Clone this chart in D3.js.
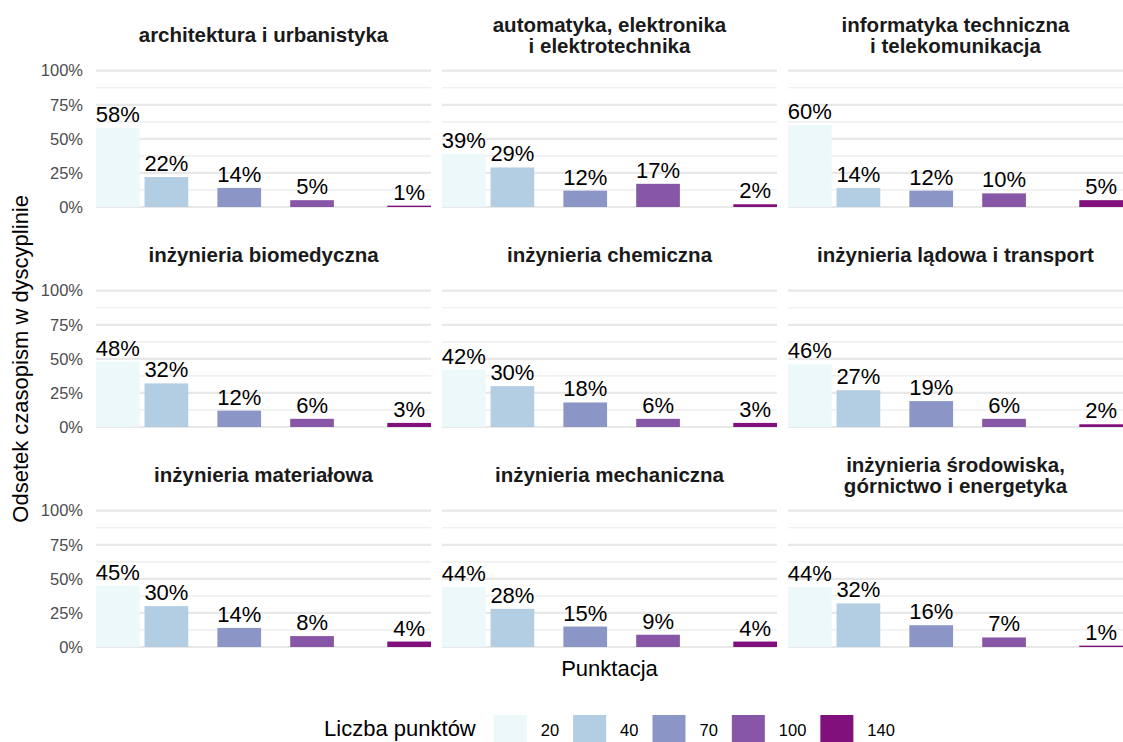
<!DOCTYPE html>
<html>
<head>
<meta charset="utf-8">
<script src="https://cdn.jsdelivr.net/npm/d3@7"></script>
<style>
  body { margin: 0; background: #fff; }
  text { font-family: "Liberation Sans", Arial, sans-serif; }
</style>
</head>
<body>
<div id="chart"></div>
<script>
// data
var disciplines = [
  "architektura i urbanistyka",
  "automatyka, elektronika\ni elektrotechnika",
  "informatyka techniczna\ni telekomunikacja",
  "inżynieria biomedyczna",
  "inżynieria chemiczna",
  "inżynieria lądowa i transport",
  "inżynieria materiałowa",
  "inżynieria mechaniczna",
  "inżynieria środowiska,\ngórnictwo i energetyka"
];
var points = [20, 40, 70, 100, 140];
var shares = [
  [0.58, 0.22, 0.14, 0.05, 0.01],
  [0.39, 0.29, 0.12, 0.17, 0.02],
  [0.60, 0.14, 0.12, 0.10, 0.05],
  [0.48, 0.32, 0.12, 0.06, 0.03],
  [0.42, 0.30, 0.18, 0.06, 0.03],
  [0.46, 0.27, 0.19, 0.06, 0.02],
  [0.45, 0.30, 0.14, 0.08, 0.04],
  [0.44, 0.28, 0.15, 0.09, 0.04],
  [0.44, 0.32, 0.16, 0.07, 0.01]
];
var yTicks = [0, 0.25, 0.5, 0.75, 1];
var yMinor = [0.125, 0.375, 0.625, 0.875];
var palette = ["#edf8fb", "#b3cde3", "#8c96c6", "#8856a7", "#810f7c"];

var W = 1123, H = 742;
var colX = [96, 442, 788], panelW = 335;
var rowTop = [70.7, 290.7, 510.7], panelH = 136.3;

var svg = d3.select("#chart").append("svg")
  .attr("width", W)
  .attr("height", H);

var x = d3.scaleLinear().domain([11, 149]).range([0, panelW]);
var y = d3.scaleLinear().domain([0, 1]).range([panelH, 0]);
var colour = d3.scaleOrdinal().domain(points).range(palette);
var barW = x(18) - x(0);

disciplines.forEach(function(name, i) {
  var col = i % 3, row = Math.floor(i / 3);
  var g = svg.append("g")
    .attr("transform", "translate(" + colX[col] + "," + rowTop[row] + ")");

  // grid
  g.selectAll("line.minor").data(yMinor).enter().append("line")
    .attr("class", "minor")
    .attr("x1", 0).attr("x2", panelW)
    .attr("y1", d => y(d)).attr("y2", d => y(d))
    .attr("stroke", "#ebebeb").attr("stroke-width", 1.2);
  g.selectAll("line.major").data(yTicks).enter().append("line")
    .attr("class", "major")
    .attr("x1", 0).attr("x2", panelW)
    .attr("y1", d => y(d)).attr("y2", d => y(d))
    .attr("stroke", "#e8e8e8").attr("stroke-width", 2.2);

  var rows = points.map((p, j) => ({ p: p, v: shares[i][j] }));

  g.selectAll("rect.bar").data(rows).enter().append("rect")
    .attr("class", "bar")
    .attr("x", d => x(d.p) - barW / 2)
    .attr("width", barW)
    .attr("y", d => y(d.v))
    .attr("height", d => y(0) - y(d.v))
    .attr("fill", d => colour(d.p));

  g.selectAll("text.val").data(rows).enter().append("text")
    .attr("class", "val")
    .attr("x", d => x(d.p))
    .attr("y", d => y(d.v) - 6)
    .attr("text-anchor", "middle")
    .style("font-size", "22px")
    .attr("fill", "#000")
    .text(d => Math.round(d.v * 100) + "%");

  // strip title
  var lines = name.split("\n");
  g.selectAll("text.strip").data(lines).enter().append("text")
    .attr("class", "strip")
    .attr("x", panelW / 2)
    .attr("y", (d, k) => -28.4 + (k - (lines.length - 1) / 2) * 21)
    .attr("text-anchor", "middle")
    .style("font-size", "20.5px")
    .style("font-weight", "bold")
    .attr("fill", "#1a1a1a")
    .text(d => d);

  if (col === 0) {
    var ax = g.append("g")
      .call(d3.axisLeft(y).tickValues(yTicks).tickFormat(d3.format(".0%")).tickSize(0).tickPadding(13));
    ax.select(".domain").remove();
    ax.selectAll("text")
      .style("font-size", "16.5px")
      .style("font-family", "'Liberation Sans', Arial, sans-serif")
      .attr("fill", "#4d4d4d");
  }
});

// axis titles
var plotCx = (colX[0] + colX[2] + panelW) / 2;
svg.append("text")
  .attr("transform", "translate(28," + (rowTop[0] + rowTop[2] + panelH) / 2 + ") rotate(-90)")
  .attr("text-anchor", "middle")
  .style("font-size", "22px")
  .text("Odsetek czasopism w dyscyplinie");

svg.append("text")
  .attr("x", plotCx)
  .attr("y", 676)
  .attr("text-anchor", "middle")
  .style("font-size", "22px")
  .text("Punktacja");

// legend
var leg = svg.append("g");
var legTitle = leg.append("text")
  .attr("x", 0).attr("y", 736)
  .style("font-size", "22px")
  .text("Liczba punktów");
var cx = legTitle.node().getComputedTextLength() + 18;
points.forEach(function(p) {
  leg.append("rect")
    .attr("x", cx).attr("y", 715)
    .attr("width", 33).attr("height", 28)
    .attr("fill", colour(p));
  var t = leg.append("text")
    .attr("x", cx + 47).attr("y", 736)
    .style("font-size", "16.5px")
    .text(p);
  cx += 47 + t.node().getComputedTextLength() + 14;
});
var legW = cx - 14;
leg.attr("transform", "translate(" + (plotCx - legW / 2) + ",0)");
</script>
</body>
</html>
